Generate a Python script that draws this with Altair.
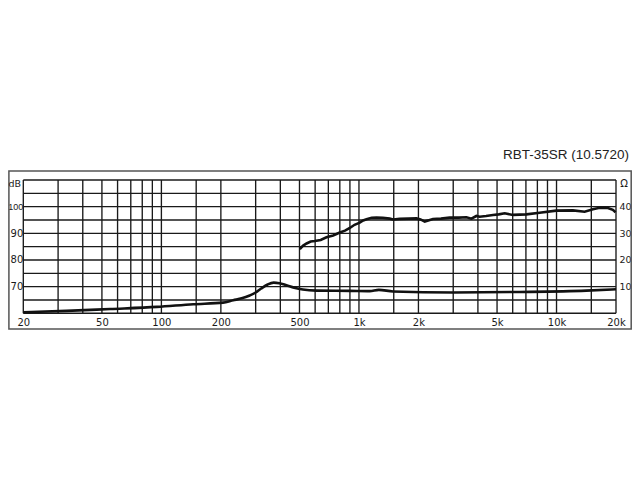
import altair as alt
import pandas as pd

# --- data ---
resp_freq = [502, 520, 543, 570, 598, 640, 685, 740, 800, 850, 899, 950, 1009, 1050, 1092, 1160, 1226, 1320,
             1432, 1488, 1607, 1780, 1954, 2050, 2152, 2370, 2600, 2878, 3200, 3500, 3708, 3930, 4084,
             4400, 4768, 5100, 5466, 6018, 6500, 7032, 8210, 9974, 12106, 13872, 15286, 16520, 18200,
             19280, 19900]
resp_db = [84.1, 85.3, 86.2, 86.9, 87.1, 87.5, 88.5, 89.2, 90.3, 91.0, 92.0, 93.2, 94.0, 94.8, 95.3, 95.8,
           95.9, 95.8, 95.5, 95.2, 95.4, 95.5, 95.6, 95.2, 94.4, 95.4, 95.5, 95.9, 95.9, 96.0, 95.5, 96.5,
           96.2, 96.5, 96.9, 97.1, 97.5, 96.9, 97.0, 97.1, 97.7, 98.5, 98.6, 98.1, 99.0, 99.6, 99.5,
           98.8, 97.9]

imp_freq = [20, 33, 55, 95, 145, 205, 231, 255, 280, 300, 320, 345, 370, 395, 430, 470, 520, 610, 900,
            1134, 1260, 1488, 3000, 6500, 14150, 20000]
imp_db = [60.4, 60.9, 61.6, 62.4, 63.4, 64.0, 64.9, 65.6, 66.7, 67.8, 69.3, 70.8, 71.5, 71.3, 70.5,
          69.6, 68.9, 68.5, 68.4, 68.3, 68.8, 68.2, 67.8, 68.0, 68.5, 69.0]

grid_freq = [20, 30, 40, 50, 60, 70, 80, 90, 100, 150, 200, 300, 400, 500, 600, 700, 800, 900,
             1000, 1500, 2000, 3000, 4000, 5000, 6000, 7000, 8000, 9000, 10000, 15000, 20000]
grid_db = [60, 65, 70, 75, 80, 85, 90, 95, 100, 105, 110]
x_labels = [20, 50, 100, 200, 500, 1000, 2000, 5000, 10000, 20000]
y_labels = [70, 80, 90, 100]
title_text = "RBT-35SR (10.5720)"

W, H = 592.7, 133.3
FONT = "DejaVu Sans"
INK = "#1a1a1a"

xs = alt.Scale(type="log", domain=[20, 20000], nice=False)
ys = alt.Scale(domain=[60, 110], nice=False, zero=False)

resp_df = pd.DataFrame({"f": resp_freq, "v": resp_db})
imp_df = pd.DataFrame({"f": imp_freq, "v": imp_db})
gx_df = pd.DataFrame({"f": grid_freq})
gy_df = pd.DataFrame({"v": grid_db})
one = pd.DataFrame({"a": [0]})

frame = alt.Chart(one).mark_rect(fill="white", fillOpacity=0, stroke="#555", strokeWidth=1.5).encode(
    x=alt.value(-14.4), x2=alt.value(607.9), y=alt.value(-9), y2=alt.value(149)
)

x_axis = alt.Axis(values=x_labels, title=None, grid=False, ticks=False, domain=False,
                  labelFont=FONT, labelFontSize=10, labelColor=INK, labelPadding=4,
                  labelFlush=False, labelOverlap=False,
                  labelExpr="datum.value >= 1000 ? (datum.value / 1000) + 'k' : '' + datum.value")

vrules = alt.Chart(gx_df).mark_rule(color=INK, strokeWidth=1.35).encode(
    x=alt.X("f:Q", scale=xs, axis=x_axis)
)

hrules = alt.Chart(gy_df).mark_rule(color=INK, strokeWidth=1.35).encode(
    y=alt.Y("v:Q", scale=ys, axis=alt.Axis(
        orient="right", values=y_labels, labelExpr="datum.value - 60", title=None,
        grid=False, ticks=False, domain=False, labelFont=FONT, labelFontSize=9.5,
        labelColor=INK, labelPadding=3, labelAlign="left"))
)

y_axis = alt.Axis(orient="left", values=y_labels, title=None, grid=False, ticks=False, domain=False,
                  labelColor=INK, labelPadding=0.5,
                  labelFont={"condition": {"test": "datum.value >= 100", "value": "Liberation Sans"},
                             "value": FONT},
                  labelFontSize={"condition": {"test": "datum.value >= 100", "value": 9}, "value": 10})

imp_line = alt.Chart(imp_df).mark_line(color="#111", strokeWidth=2.6, interpolate="monotone").encode(
    x=alt.X("f:Q", scale=xs, axis=None),
    y=alt.Y("v:Q", scale=ys, axis=y_axis),
)
resp_line = alt.Chart(resp_df).mark_line(color="#111", strokeWidth=2.6).encode(
    x=alt.X("f:Q", scale=xs, axis=None),
    y=alt.Y("v:Q", scale=ys, axis=None),
)

db_txt = alt.Chart(one).mark_text(text="dB", font=FONT, fontSize=9.5, color=INK, align="right",
                                  baseline="middle").encode(x=alt.value(-2.2), y=alt.value(4))
ohm_txt = alt.Chart(one).mark_text(text="Ω", font=FONT, fontSize=10, color=INK, align="left",
                                   baseline="middle").encode(x=alt.value(597), y=alt.value(4))
title = alt.Chart(one).mark_text(text=title_text, font="Liberation Sans", fontSize=13.5, color="#222",
                                 align="right", baseline="alphabetic").encode(
    x=alt.value(605.7), y=alt.value(-20.5))

chart = alt.layer(frame, vrules, hrules, imp_line, resp_line, db_txt, ohm_txt, title).resolve_axis(
    x="independent", y="independent"
).properties(
    width=W, height=H,
    autosize=alt.AutoSizeParams(type="none"),
    padding={"left": 15.3, "top": 172, "right": 16, "bottom": 17},
    background="white",
).configure_view(strokeWidth=0)

chart.save("out.html", embed_options={"renderer": "svg", "actions": False})
